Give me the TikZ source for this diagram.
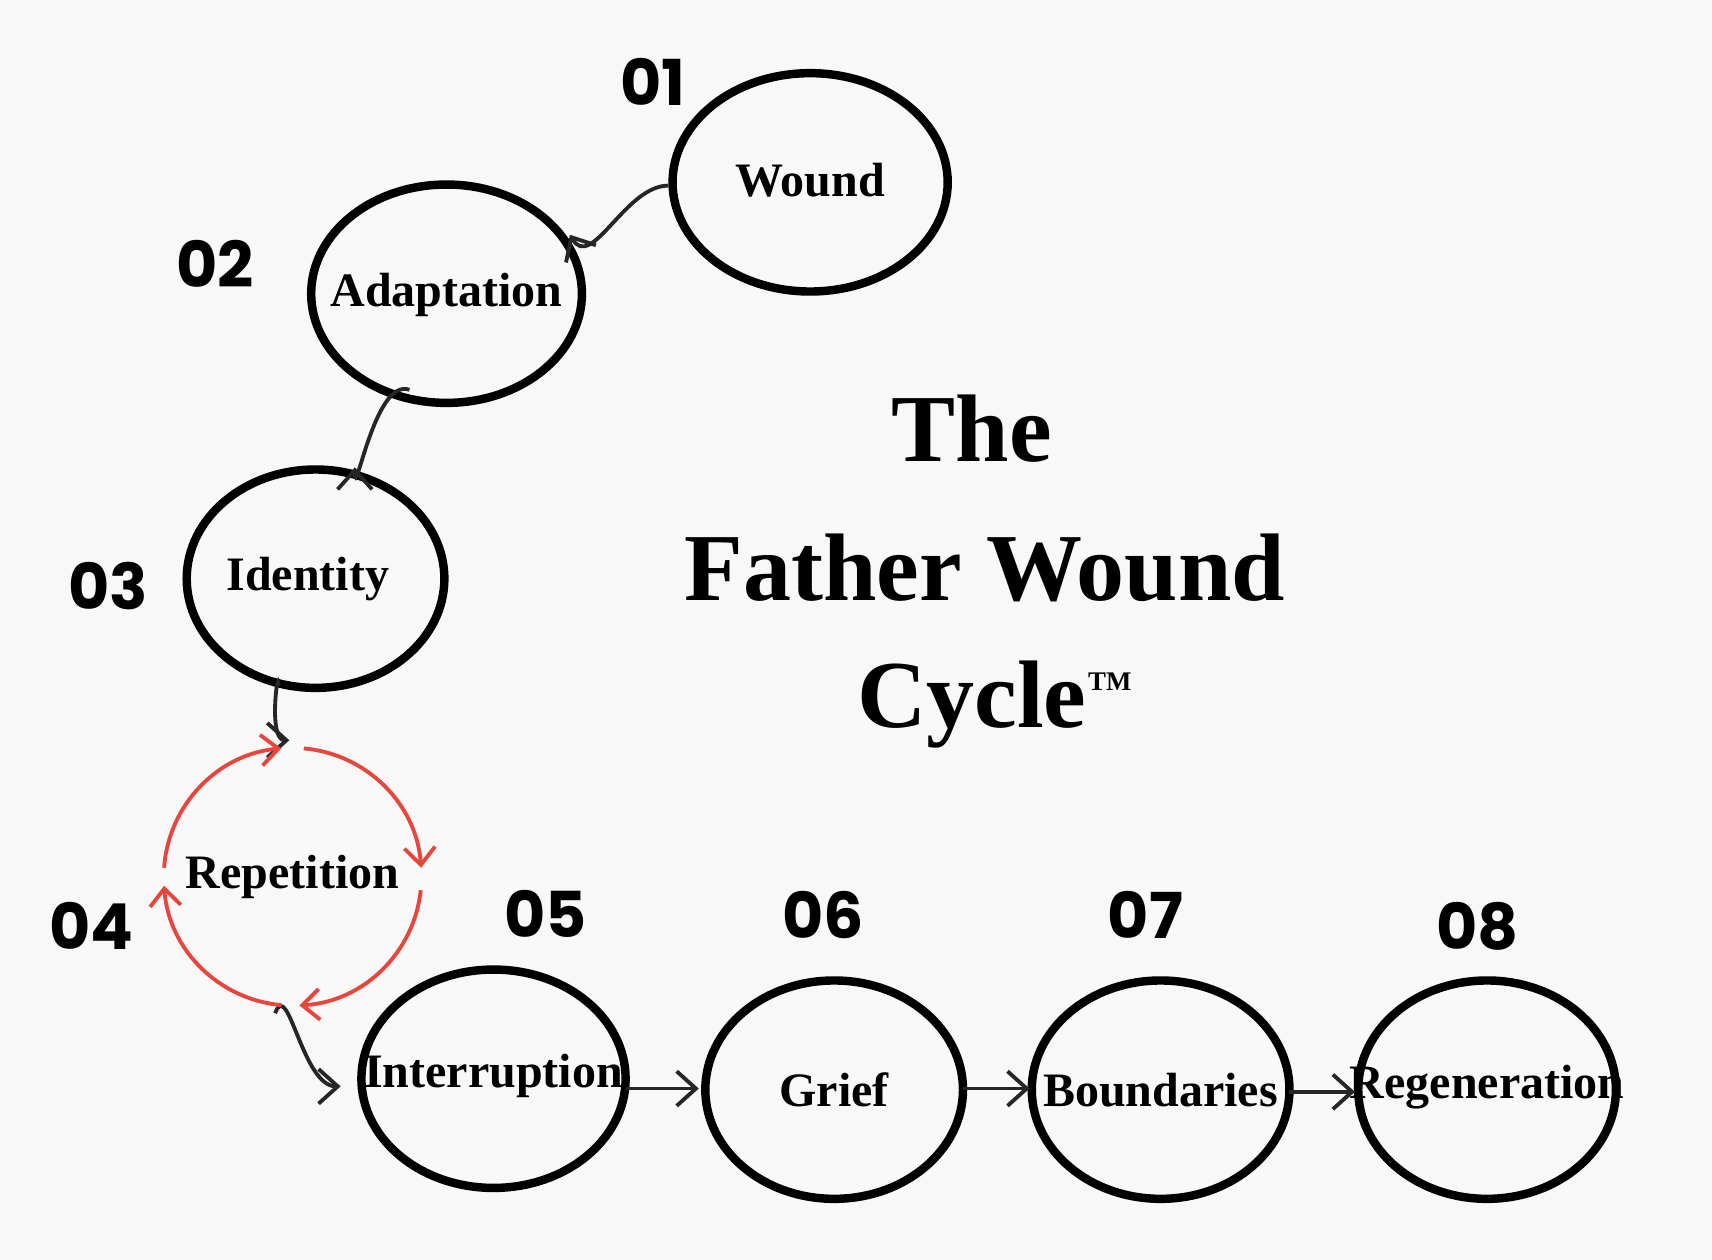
\documentclass[tikz,border=0pt]{standalone}
\usepackage{fontspec}
\setmainfont{Liberation Serif}
\newfontfamily\numf{Poppins}
\usetikzlibrary{arrows.meta}
\definecolor{bg}{HTML}{F8F8F8}
\definecolor{rd}{HTML}{E8453C}
\begin{document}
\begin{tikzpicture}[x=0.01cm,y=-0.01cm,
  lab/.style={font=\fontsize{12.5}{12.5}\selectfont\bfseries},
  num/.style={font=\numf\fontsize{16.5}{16.5}\selectfont\bfseries},
  arr/.style={-{Straight Barb[length=5pt,width=9pt]},line width=1pt,black!85},
  red/.style={-{Straight Barb[length=4.5pt,width=8pt]},line width=1pt,rd},
  ttl/.style={font=\fontsize{25}{25}\selectfont\bfseries}]
\fill[bg] (0,0) rectangle (1568,1154);
\useasboundingbox (0,0) rectangle (1568,1154);
\draw[line width=2.2pt] (742,167) ellipse [x radius=126,y radius=100];
\draw[line width=2.2pt] (409,269) ellipse [x radius=124,y radius=100];
\draw[line width=2.2pt] (289,530) ellipse [x radius=118,y radius=100];
\draw[line width=2.2pt] (452,988) ellipse [x radius=121,y radius=100];
\draw[line width=2.2pt] (764,998) ellipse [x radius=118,y radius=100];
\draw[line width=2.2pt] (1063,998) ellipse [x radius=118,y radius=100];
\draw[line width=2.2pt] (1362,998) ellipse [x radius=118,y radius=100];
\node[lab] (w) at (742,165) {Wound};
\node[lab] (a) at (409,270) {Adaptation};
\node[lab] (i) at (282,530) {Identity};
\node[lab] (r) at (268,803) {Repetition};
\node[lab] (n) at (452,985) {Interruption};
\node[lab] (g) at (764,998) {Grief};
\node[lab] (b) at (1063,998) {Boundaries};
\node[lab] (e) at (1362,996) {Regeneration};
\node[num] at (598,75) {01};
\node[num] at (197,242) {02};
\node[num] at (99,537) {03};
\node[num] at (84,848) {04};
\node[num] at (500,837) {05};
\node[num] at (754,838) {06};
\node[num] at (1049,838) {07};
\node[num] at (1353,848) {08};
\node[ttl] at (890,393) {The};
\node[ttl] at (902,520) {Father Wound};
\node[ttl] (cy) at (890,645) {Cycle};
\node[font=\fontsize{7}{7}\selectfont\bfseries,anchor=south west,inner sep=0pt] at (996,633) {TM};
\coordinate (w1) at (612,170); \coordinate (a1) at (522,215);
\coordinate (a2) at (375,357); \coordinate (i1) at (325,428);
\coordinate (i2) at (255,628); \coordinate (r1) at (265,678);
\coordinate (r2) at (252,928); \coordinate (n1) at (312,995);
\draw[arr] (w1) to[out=180,in=-60] (a1);
\draw[arr] (a2) to[out=160,in=-90] (i1);
\draw[arr] (i2) to[out=90,in=180] (r1);
\draw[arr] (r2) to[out=70,in=180] (n1);
\draw[arr] (573,997) -- (640,997);
\draw[arr] (882,997) -- (943,997);
\draw[arr] (1181,1000) -- (1241,1000);
\draw[red] (268,803) ++(184:118) arc[start angle=184,end angle=265,radius=118];
\draw[red] (268,803) ++(275:118) arc[start angle=275,end angle=356,radius=118];
\draw[red] (268,803) ++(6:118) arc[start angle=6,end angle=87,radius=118];
\draw[red] (268,803) ++(95:118) arc[start angle=95,end angle=176,radius=118];
\end{tikzpicture}
\end{document}
